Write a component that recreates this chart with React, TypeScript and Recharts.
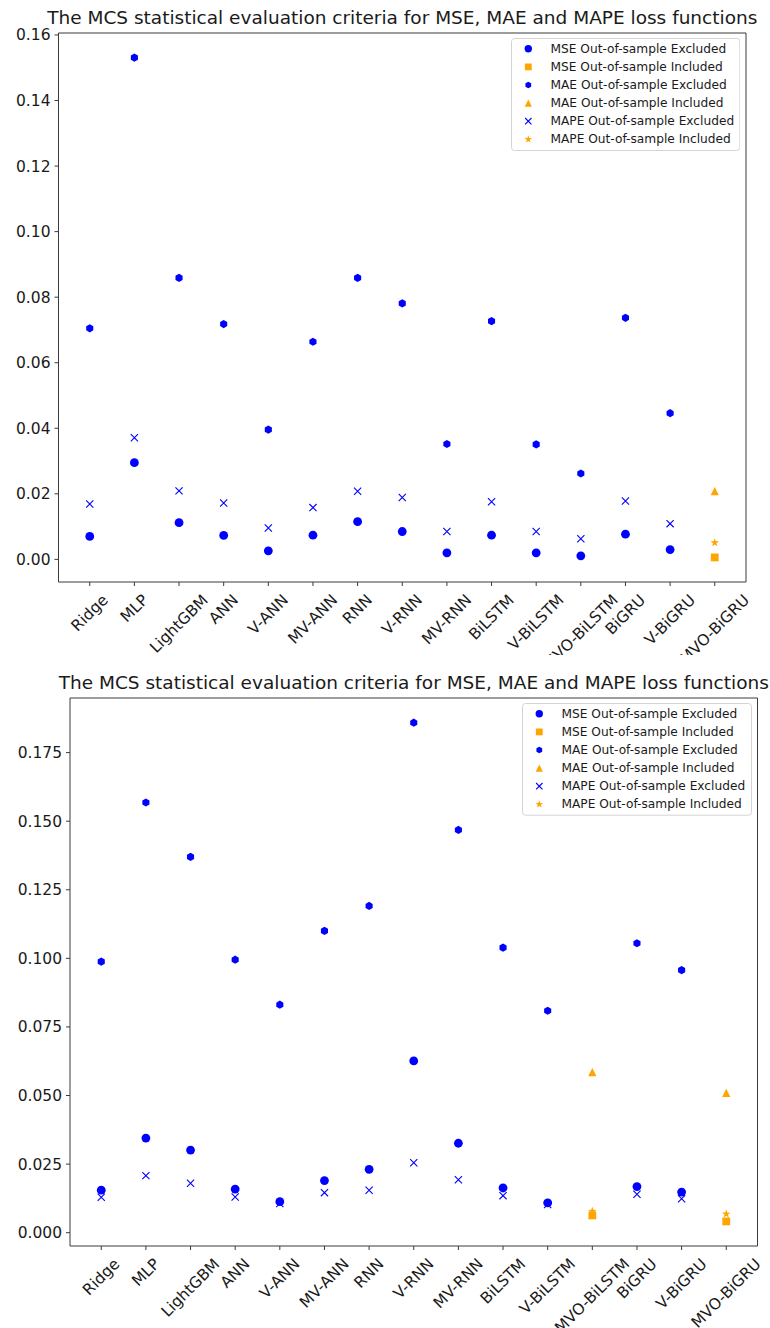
import React from 'react'
import { ScatterChart, Scatter, XAxis, YAxis, Legend, ReferenceLine } from 'recharts'

const MODELS = ['Ridge', 'MLP', 'LightGBM', 'ANN', 'V-ANN', 'MV-ANN', 'RNN', 'V-RNN', 'MV-RNN', 'BiLSTM', 'V-BiLSTM', 'MVO-BiLSTM', 'BiGRU', 'V-BiGRU', 'MVO-BiGRU']
const TITLE = 'The MCS statistical evaluation criteria for MSE, MAE and MAPE loss functions'

// upper panel
const MSE_A = [0.0070, 0.0295, 0.0112, 0.0073, 0.0026, 0.0074, 0.0115, 0.0085, 0.0020, 0.0074, 0.0020, 0.0011, 0.0077, 0.0030, 0.0006]
const MAE_A = [0.0705, 0.1531, 0.0859, 0.0718, 0.0396, 0.0664, 0.0859, 0.0781, 0.0352, 0.0727, 0.0351, 0.0262, 0.0737, 0.0446, 0.0208]
const MAPE_A = [0.0169, 0.0371, 0.0209, 0.0172, 0.0096, 0.0158, 0.0208, 0.0189, 0.0085, 0.0176, 0.0085, 0.0063, 0.0178, 0.0109, 0.0051]
const INCLUDED_A = ['MVO-BiGRU']
const Y_TICKS_A = [0, 0.02, 0.04, 0.06, 0.08, 0.10, 0.12, 0.14, 0.16]

// lower panel
const MSE_B = [0.0155, 0.0345, 0.0301, 0.0159, 0.0113, 0.0190, 0.0231, 0.0626, 0.0326, 0.0163, 0.0109, 0.0063, 0.0168, 0.0148, 0.0041]
const MAE_B = [0.0988, 0.1568, 0.1370, 0.0995, 0.0831, 0.1100, 0.1191, 0.1859, 0.1468, 0.1039, 0.0809, 0.0585, 0.1055, 0.0957, 0.0510]
const MAPE_B = [0.0129, 0.0208, 0.0180, 0.0130, 0.0106, 0.0146, 0.0155, 0.0255, 0.0193, 0.0135, 0.0103, 0.0078, 0.0140, 0.0124, 0.0068]
const INCLUDED_B = ['MVO-BiLSTM', 'MVO-BiGRU']
const Y_TICKS_B = [0, 0.025, 0.05, 0.075, 0.1, 0.125, 0.15, 0.175]

const X_DOMAIN: [number, number] = [-0.7, 14.7]

const BLUE = '#0000ff'
const ORANGE = '#ffa500'
const SPINE = '#3a3a3a'
const INK = '#1a1a1a'
const FONT = '"DejaVu Sans", sans-serif'
const TICK_FS = 15.5

type Kind = 'circle' | 'square' | 'hexagon' | 'triangle' | 'cross' | 'star'
type Metric = 'MSE' | 'MAE' | 'MAPE'

const SERIES: { name: string; metric: Metric; inc: boolean; kind: Kind; color: string; size: number; legSize: number }[] = [
  { name: 'MSE Out-of-sample Excluded', metric: 'MSE', inc: false, kind: 'circle', color: BLUE, size: 8.8, legSize: 7.4 },
  { name: 'MSE Out-of-sample Included', metric: 'MSE', inc: true, kind: 'square', color: ORANGE, size: 7.8, legSize: 6.8 },
  { name: 'MAE Out-of-sample Excluded', metric: 'MAE', inc: false, kind: 'hexagon', color: BLUE, size: 8.2, legSize: 6.6 },
  { name: 'MAE Out-of-sample Included', metric: 'MAE', inc: true, kind: 'triangle', color: ORANGE, size: 8.2, legSize: 7.2 },
  { name: 'MAPE Out-of-sample Excluded', metric: 'MAPE', inc: false, kind: 'cross', color: BLUE, size: 7.2, legSize: 6.4 },
  { name: 'MAPE Out-of-sample Included', metric: 'MAPE', inc: true, kind: 'star', color: ORANGE, size: 9, legSize: 8 },
]

function marker(kind: Kind, cx: number, cy: number, s: number, color: string) {
  const h = s / 2
  if (kind === 'circle') return <circle cx={cx} cy={cy} r={h} fill={color} />
  if (kind === 'square') return <rect x={cx - h} y={cy - h} width={s} height={s} fill={color} />
  if (kind === 'triangle') return <polygon points={`${cx},${cy - h} ${cx - h},${cy + h} ${cx + h},${cy + h}`} fill={color} />
  if (kind === 'cross')
    return <path d={`M${cx - h},${cy - h}L${cx + h},${cy + h}M${cx - h},${cy + h}L${cx + h},${cy - h}`} stroke={color} strokeWidth={1.1} fill="none" />
  if (kind === 'hexagon') {
    const pts = [0, 1, 2, 3, 4, 5].map(k => {
      const a = (-90 + 60 * k) * Math.PI / 180
      return `${cx + h * Math.cos(a)},${cy + h * Math.sin(a)}`
    }).join(' ')
    return <polygon points={pts} fill={color} />
  }
  const pts = [...Array(10)].map((_, k) => {
    const r = k % 2 === 0 ? h : h * 0.4
    const a = (-90 + 36 * k) * Math.PI / 180
    return `${cx + r * Math.cos(a)},${cy + r * Math.sin(a)}`
  }).join(' ')
  return <polygon points={pts} fill={color} />
}

let ctx: CanvasRenderingContext2D | null = null
function textWidth(s: string, size: number) {
  if (!ctx) ctx = document.createElement('canvas').getContext('2d')
  if (!ctx) return s.length * size * 0.6
  ctx.font = `${size}px "DejaVu Sans"`
  return ctx.measureText(s).width
}

// matplotlib-style rotation=45, centred under the tick
const XTick = (props: any) => {
  const { x, y, payload } = props
  const label = MODELS[payload.value] ?? ''
  const w = textWidth(label, TICK_FS)
  const hgt = TICK_FS * 1.164
  const cy = y + (w + hgt) / (2 * Math.SQRT2)
  return (
    <text x={x} y={cy} textAnchor="middle" dominantBaseline="central" fontSize={TICK_FS} fontFamily={FONT} fill={INK}
      transform={`rotate(-45, ${x}, ${cy})`}>
      {label}
    </text>
  )
}

const LegendBox = ({ w, h, rowTop, rowGap }: { w: number; h: number; rowTop: number; rowGap: number }) => (
  <svg width={w} height={h} style={{ display: 'block' }}>
    <rect x={0.5} y={0.5} width={w - 1} height={h - 1} rx={3} fill="#fff" fillOpacity={0.85} stroke="#d4d4d4" />
    {SERIES.map((s, i) => {
      const cy = rowTop + i * rowGap
      return (
        <g key={s.name}>
          {marker(s.kind, 17.3, cy, s.legSize, s.color)}
          <text x={39.5} y={cy} dominantBaseline="central" fontSize={12.2} fontFamily={FONT} fill={INK}>{s.name}</text>
        </g>
      )
    })}
  </svg>
)

interface PanelProps {
  top: number
  height: number
  plot: { left: number; right: number; top: number; bottom: number }
  mse: number[]
  mae: number[]
  mape: number[]
  included: string[]
  yDomain: [number, number]
  yTicks: number[]
  digits: number
  legend: { left: number; top: number; w: number; h: number }
}

function Panel({ top, height, plot, mse, mae, mape, included, yDomain, yTicks, digits, legend }: PanelProps) {
  const values: Record<Metric, number[]> = { MSE: mse, MAE: mae, MAPE: mape }
  const xTicks = MODELS.map((_, i) => i)
  const cx = (plot.left + plot.right) / 2
  return (
    <div style={{ position: 'absolute', left: 0, top, width: 770, height, overflow: 'hidden' }}>
      <div style={{
        position: 'absolute', left: cx, top: plot.top - 25, transform: 'translateX(-50%)', whiteSpace: 'nowrap',
        fontFamily: FONT, fontSize: 18.5, lineHeight: '20px', color: INK,
      }}>{TITLE}</div>
      <ScatterChart width={770} height={height} margin={{ top: plot.top, right: 770 - plot.right, bottom: 0, left: 0 }}>
        <XAxis type="number" dataKey="x" domain={X_DOMAIN} ticks={xTicks} interval={0} allowDataOverflow
          height={height - plot.bottom} tick={<XTick />} tickSize={4} tickMargin={5}
          axisLine={{ stroke: SPINE }} tickLine={{ stroke: SPINE }} />
        <YAxis type="number" dataKey="y" domain={yDomain} ticks={yTicks} interval={0} allowDataOverflow
          width={plot.left} tickSize={4} tickMargin={4} tickFormatter={(v: number) => v.toFixed(digits)}
          tick={{ fontSize: TICK_FS, fill: INK, fontFamily: FONT }} axisLine={{ stroke: SPINE }} tickLine={{ stroke: SPINE }} />
        {/* top and right spines */}
        <ReferenceLine y={yDomain[1]} stroke={SPINE} ifOverflow="visible" />
        <ReferenceLine x={X_DOMAIN[1]} stroke={SPINE} ifOverflow="visible" />
        <Legend layout="vertical" align="center" verticalAlign="middle"
          wrapperStyle={{ left: legend.left, top: legend.top, width: legend.w, height: legend.h, right: 'auto', bottom: 'auto' }}
          content={() => <LegendBox w={legend.w} h={legend.h} rowTop={10.8} rowGap={18.1} />} />
        {SERIES.map(s => {
          const data = values[s.metric]
            .map((y, i) => ({ x: i, y }))
            .filter(p => included.includes(MODELS[p.x]) === s.inc)
          return (
            <Scatter key={s.name} name={s.name} data={data} isAnimationActive={false}
              shape={(p: any) => marker(s.kind, p.cx, p.cy, s.size, s.color)} />
          )
        })}
      </ScatterChart>
    </div>
  )
}

export default function App() {
  return (
    <div style={{ position: 'absolute', left: 0, top: 0, width: 770, height: 1328, background: '#fff', overflow: 'hidden' }}>
      <Panel top={0} height={655} plot={{ left: 58.5, right: 746, top: 33, bottom: 582 }}
        mse={MSE_A} mae={MAE_A} mape={MAPE_A} included={INCLUDED_A}
        yDomain={[-0.0069, 0.1606]} yTicks={Y_TICKS_A} digits={2}
        legend={{ left: 510.7, top: 38, w: 229.3, h: 113 }} />
      <Panel top={655} height={673} plot={{ left: 70, right: 757.5, top: 43, bottom: 591 }}
        mse={MSE_B} mae={MAE_B} mape={MAPE_B} included={INCLUDED_B}
        yDomain={[-0.00485, 0.1949]} yTicks={Y_TICKS_B} digits={3}
        legend={{ left: 521.7, top: 48, w: 230, h: 112.7 }} />
    </div>
  )
}
